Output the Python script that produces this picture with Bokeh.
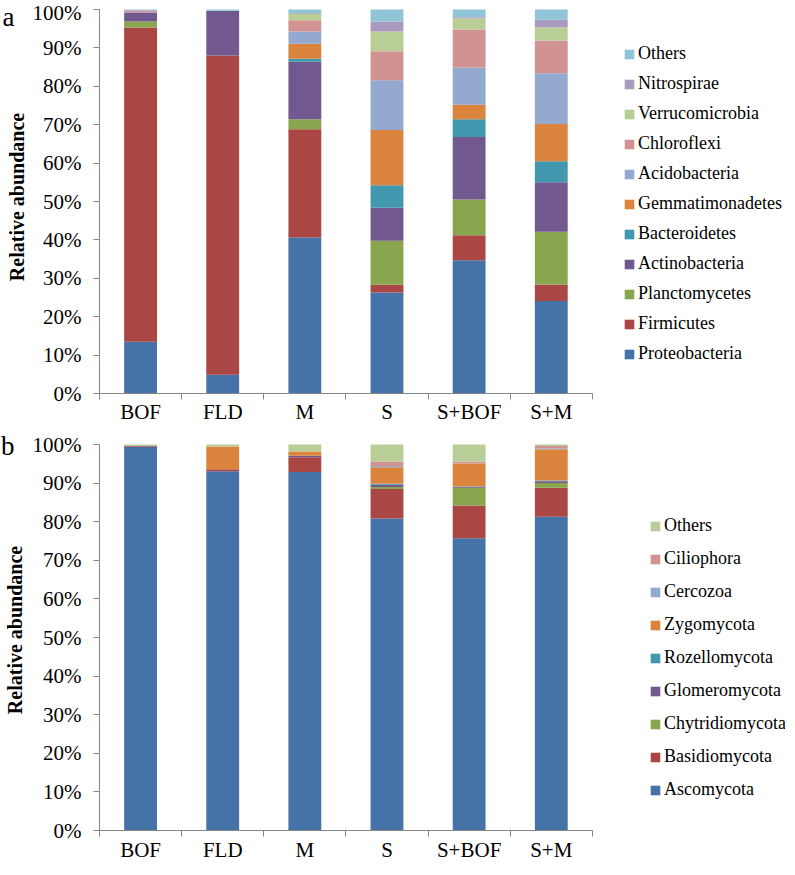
from bokeh.plotting import figure
from bokeh.models import (ColumnDataSource, FixedTicker, Legend, LegendItem,
                          LinearAxis, Range1d)
from bokeh.layouts import column
from bokeh.embed import file_html
from bokeh.resources import INLINE

# ---------------- data ----------------
samples = ["BOF", "FLD", "M", "S", "S+BOF", "S+M"]
y_ticks = [0, 10, 20, 30, 40, 50, 60, 70, 80, 90, 100]
y_tick_labels = ["0%", "10%", "20%", "30%", "40%", "50%", "60%", "70%", "80%", "90%", "100%"]

# panel a: bacteria (relative abundance, %)
bac_taxa = ["Proteobacteria", "Firmicutes", "Planctomycetes", "Actinobacteria",
            "Bacteroidetes", "Gemmatimonadetes", "Acidobacteria", "Chloroflexi",
            "Verrucomicrobia", "Nitrospirae", "Others"]
Proteobacteria = [13.5, 4.9, 40.6, 26.3, 34.7, 24.1]
Firmicutes = [81.8, 83.1, 28.2, 2.0, 6.5, 4.3]
Planctomycetes = [1.6, 0.0, 2.6, 11.5, 9.3, 13.7]
Actinobacteria = [2.3, 11.7, 15.0, 8.6, 16.3, 12.9]
Bacteroidetes = [0.0, 0.0, 0.8, 5.8, 4.6, 5.5]
Gemmatimonadetes = [0.0, 0.0, 3.9, 14.4, 3.8, 9.7]
Acidobacteria = [0.1, 0.0, 3.2, 13.0, 9.7, 13.2]
Chloroflexi = [0.3, 0.0, 2.9, 7.5, 9.9, 8.5]
Verrucomicrobia = [0.0, 0.0, 1.6, 5.2, 2.9, 3.5]
Nitrospirae = [0.2, 0.0, 0.2, 2.5, 0.3, 1.9]
Bac_Others = [0.2, 0.3, 1.0, 3.2, 2.0, 2.7]
bac_colors = ["#4572A7", "#AA4643", "#89A54E", "#71588F", "#4198AF", "#DB843D",
              "#93A9CF", "#D19392", "#B9CD96", "#A99BBD", "#92C4D7"]

# panel b: fungi (relative abundance, %)
fun_taxa = ["Ascomycota", "Basidiomycota", "Chytridiomycota", "Glomeromycota",
            "Rozellomycota", "Zygomycota", "Cercozoa", "Ciliophora", "Others"]
Ascomycota = [99.4, 93.1, 92.9, 80.8, 75.7, 81.3]
Basidiomycota = [0.2, 0.5, 3.8, 7.7, 8.5, 7.5]
Chytridiomycota = [0.0, 0.0, 0.0, 0.5, 4.6, 1.2]
Glomeromycota = [0.1, 0.0, 0.4, 0.6, 0.2, 0.5]
Rozellomycota = [0.0, 0.0, 0.0, 0.2, 0.1, 0.2]
Zygomycota = [0.0, 5.9, 1.1, 4.3, 6.0, 8.1]
Cercozoa = [0.0, 0.0, 0.0, 0.3, 0.0, 0.2]
Ciliophora = [0.0, 0.0, 0.0, 1.2, 0.4, 0.6]
Fun_Others = [0.3, 0.5, 1.8, 4.4, 4.5, 0.4]
fun_colors = ["#4572A7", "#AA4643", "#89A54E", "#71588F", "#4198AF", "#DB843D",
              "#93A9CF", "#D19392", "#B9CD96"]

bac_values = [Proteobacteria, Firmicutes, Planctomycetes, Actinobacteria, Bacteroidetes,
              Gemmatimonadetes, Acidobacteria, Chloroflexi, Verrucomicrobia, Nitrospirae,
              Bac_Others]
fun_values = [Ascomycota, Basidiomycota, Chytridiomycota, Glomeromycota, Rozellomycota,
              Zygomycota, Cercozoa, Ciliophora, Fun_Others]

FONT = "Liberation Serif"
AXIS_COLOR = "#868686"
FIG_W = 785
LEFT = 96
PLOT_W = 495                 # width of the category area
FRAME_W = FIG_W - LEFT       # frame also hosts the legend on its right side


def make_panel(taxa, values, colors, letter, height, top_pad, bottom, xstandoff,
               leg_x, leg_y, leg_spacing, letter_px):
    n = len(samples)
    xs = list(range(1, n + 1))
    data = {"x": xs}
    keys = []
    for i, v in enumerate(values):
        k = "s%d" % i
        keys.append(k)
        data[k] = v
    src = ColumnDataSource(data)

    frame_h = height - bottom
    plot_h = frame_h - top_pad                 # pixels spanned by 0..100 %
    y_end = 100.0 * frame_h / plot_h
    x_end = 0.5 + FRAME_W / (PLOT_W / n)
    p = figure(width=FIG_W, height=height, output_backend="svg", toolbar_location=None,
               x_range=Range1d(0.5, x_end), y_range=Range1d(0, y_end),
               min_border_left=LEFT, min_border_right=0,
               min_border_top=0, min_border_bottom=bottom)
    p.outline_line_color = None
    p.xgrid.visible = False
    p.ygrid.visible = False
    p.background_fill_color = "white"
    p.border_fill_color = "white"

    rs = p.vbar_stack(keys, x="x", width=0.4, color=colors, line_color=None, source=src)

    # x axis: labels at centres, ticks at category boundaries
    xa = p.xaxis[0]
    xa.bounds = (0.5, n + 0.5)
    xa.ticker = FixedTicker(ticks=xs, minor_ticks=[x + 0.5 for x in range(0, n + 1)])
    xa.major_label_overrides = {x: s for x, s in zip(xs, samples)}
    xa.major_tick_line_color = None
    xa.major_tick_out = 0
    xa.major_tick_in = 0
    xa.minor_tick_line_color = AXIS_COLOR
    xa.minor_tick_out = 6
    xa.minor_tick_in = 0
    xa.axis_line_color = AXIS_COLOR
    xa.major_label_text_font = FONT
    xa.major_label_text_font_size = "21px"
    xa.major_label_text_color = "black"
    xa.major_label_standoff = xstandoff

    ya = p.yaxis[0]
    ya.bounds = (0, 100)
    ya.ticker = FixedTicker(ticks=y_ticks, minor_ticks=[])
    ya.major_label_overrides = {t: s for t, s in zip(y_ticks, y_tick_labels)}
    ya.axis_line_color = AXIS_COLOR
    ya.major_tick_line_color = AXIS_COLOR
    ya.major_tick_out = 6
    ya.major_tick_in = 0
    ya.major_label_text_font = FONT
    ya.major_label_text_font_size = "21px"
    ya.major_label_text_color = "black"
    ya.major_label_standoff = 12

    # outer left axis: carries the panel letter (at the top) and the axis title
    letter_y = round(100.0 + letter_px * 100.0 / plot_h, 3)
    la = LinearAxis(ticker=FixedTicker(ticks=[letter_y], minor_ticks=[]),
                    major_label_overrides={letter_y: letter})
    la.axis_line_color = None
    la.major_tick_line_color = None
    la.major_tick_out = 0
    la.major_tick_in = 0
    la.major_label_standoff = 15
    la.major_label_text_font = FONT
    la.major_label_text_font_size = "27px"
    la.major_label_text_color = "black"
    la.axis_label = "Relative abundance"
    la.axis_label_text_font = FONT
    la.axis_label_text_font_size = "20px"
    la.axis_label_text_font_style = "bold"
    la.axis_label_text_color = "black"
    la.axis_label_standoff = -28
    p.add_layout(la, "left")

    items = [LegendItem(label=t, renderers=[r]) for t, r in zip(taxa, rs)]
    items.reverse()
    leg = Legend(items=items, location=(PLOT_W + leg_x, leg_y), orientation="vertical",
                 border_line_color=None, background_fill_alpha=0,
                 padding=0, margin=0, spacing=leg_spacing,
                 glyph_width=12, glyph_height=12, label_height=20,
                 label_standoff=3, label_text_font=FONT,
                 label_text_font_size="18px", label_text_color="black")
    p.add_layout(leg)
    return p


p1 = make_panel(bac_taxa, bac_values, bac_colors, "a", 429, 9, 36, 0, 29, 29, 9, -7)
p2 = make_panel(fun_taxa, fun_values, fun_colors, "b", 437, 15, 36, 1, 55, 30, 12, 1.5)

layout = column(p1, p2, spacing=0)
open("out.html", "w").write(file_html(layout, INLINE))
